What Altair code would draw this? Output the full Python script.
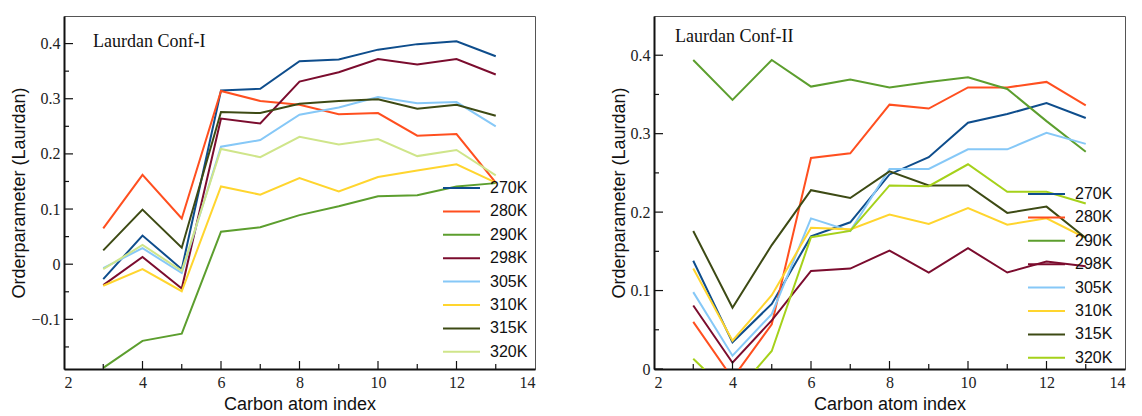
import altair as alt
import pandas as pd

SANS = "Liberation Sans"
SERIF = "Liberation Serif"

carbon = [3, 4, 5, 6, 7, 8, 9, 10, 11, 12, 13]
temps = ["270K", "280K", "290K", "298K", "305K", "310K", "315K", "320K"]

# Laurdan Conf-I
conf1 = {
    "270K": [-0.027, 0.052, -0.009, 0.315, 0.318, 0.368, 0.371, 0.389, 0.399, 0.404, 0.377],
    "280K": [0.065, 0.162, 0.083, 0.314, 0.296, 0.289, 0.272, 0.274, 0.233, 0.236, 0.148],
    "290K": [-0.188, -0.139, -0.126, 0.059, 0.067, 0.089, 0.105, 0.123, 0.125, 0.141, 0.147],
    "298K": [-0.038, 0.013, -0.044, 0.264, 0.255, 0.331, 0.348, 0.372, 0.362, 0.372, 0.344],
    "305K": [-0.007, 0.029, -0.016, 0.213, 0.225, 0.271, 0.284, 0.303, 0.292, 0.294, 0.250],
    "310K": [-0.039, -0.009, -0.049, 0.141, 0.126, 0.156, 0.132, 0.158, 0.170, 0.181, 0.148],
    "315K": [0.025, 0.099, 0.030, 0.276, 0.274, 0.291, 0.296, 0.299, 0.282, 0.289, 0.269],
    "320K": [-0.009, 0.035, -0.012, 0.209, 0.194, 0.231, 0.217, 0.227, 0.196, 0.207, 0.161],
}

# Laurdan Conf-II
conf2 = {
    "270K": [0.138, 0.034, 0.083, 0.169, 0.187, 0.248, 0.270, 0.314, 0.325, 0.339, 0.320],
    "280K": [0.060, -0.012, 0.057, 0.269, 0.275, 0.337, 0.332, 0.359, 0.359, 0.366, 0.336],
    "290K": [0.394, 0.343, 0.394, 0.360, 0.369, 0.359, 0.366, 0.372, 0.357, 0.316, 0.277],
    "298K": [0.081, 0.008, 0.062, 0.125, 0.128, 0.151, 0.123, 0.154, 0.123, 0.137, 0.131],
    "305K": [0.098, 0.017, 0.070, 0.192, 0.176, 0.255, 0.255, 0.280, 0.280, 0.301, 0.287],
    "310K": [0.128, 0.036, 0.094, 0.180, 0.178, 0.197, 0.185, 0.205, 0.184, 0.192, 0.167],
    "315K": [0.176, 0.078, 0.158, 0.228, 0.218, 0.252, 0.234, 0.234, 0.199, 0.207, 0.167],
    "320K": [0.013, -0.035, 0.023, 0.168, 0.176, 0.234, 0.233, 0.261, 0.226, 0.226, 0.211],
}

colors1 = ["#0e4d8c", "#ff4f1f", "#5c9e2e", "#7b0c2e", "#86c8f7", "#ffd52e", "#3d4a14", "#cfe58a"]
colors2 = ["#0e4d8c", "#ff4f1f", "#5c9e2e", "#7b0c2e", "#86c8f7", "#ffd52e", "#3d4a14", "#a5d11a"]
widths1 = [2, 2, 2, 2, 2, 2, 2, 1]
widths2 = [2, 2, 2, 2, 2, 2, 2, 2]

x_labels = [2, 4, 6, 8, 10, 12, 14]
x_major = [4, 6, 8, 10, 12]
x_minor = [3, 5, 7, 9, 11, 13]

y1_labels = [-0.1, 0, 0.1, 0.2, 0.3, 0.4]
y1_minor = [-0.15, -0.05, 0.05, 0.15, 0.25, 0.35]
y2_labels = [0, 0.1, 0.2, 0.3, 0.4]
y2_minor = [0.05, 0.15, 0.25, 0.35]

W, H = 471, 353


def panel(series, colors, widths, ydomain, ylabels, yminor, title, tdx, tdy, legx, legy):
    rows = []
    for t in temps:
        for c, v in zip(carbon, series[t]):
            rows.append({"x": c, "v": v, "T": t})
    df = pd.DataFrame(rows)

    xscale = alt.Scale(domain=[2, 14], nice=False, zero=False)
    yscale = alt.Scale(domain=ydomain, nice=False, zero=False)

    xaxis = alt.Axis(values=x_labels, format="d", ticks=False, tickSize=0, grid=False,
                     domainColor="#111", domainWidth=2,
                     labelFont=SERIF, labelFontSize=16, labelColor="#222", labelPadding=5,
                     title="Carbon atom index", titleFont=SANS, titleFontSize=18,
                     titleFontWeight="normal", titleColor="#111", titlePadding=5)
    yaxis = alt.Axis(values=ylabels, format="~g", ticks=False, tickSize=0, grid=False,
                     domainColor="#111", domainWidth=2,
                     labelFont=SERIF, labelFontSize=16, labelColor="#222", labelPadding=4,
                     title="Orderparameter (Laurdan)", titleFont=SANS, titleFontSize=18,
                     titleFontWeight="normal", titleColor="#111", titlePadding=2)

    lines = alt.Chart(df).mark_line(clip=True).encode(
        x=alt.X("x:Q", scale=xscale, axis=xaxis),
        y=alt.Y("v:Q", scale=yscale, axis=yaxis),
        color=alt.Color(
            "T:N",
            scale=alt.Scale(domain=temps, range=colors),
            legend=alt.Legend(orient="none", legendX=legx, legendY=legy, title=None,
                              symbolType="stroke", symbolSize=1369, symbolStrokeWidth=3,
                              clipHeight=16, rowPadding=7.4, padding=0, labelOffset=9,
                              labelFont=SANS, labelFontSize=16, labelColor="#111"),
        ),
        strokeWidth=alt.StrokeWidth("T:N", scale=alt.Scale(domain=temps, range=widths), legend=None),
    )

    ymaj_df = pd.DataFrame({"v": ylabels})
    ymin_df = pd.DataFrame({"v": yminor})
    xmaj_df = pd.DataFrame({"x": x_major})
    xmin_df = pd.DataFrame({"x": x_minor})

    ytick_major = alt.Chart(ymaj_df).mark_rule(color="#111", strokeWidth=1.2).encode(
        y=alt.Y("v:Q", scale=yscale), x=alt.value(0), x2=alt.value(9))
    ytick_minor = alt.Chart(ymin_df).mark_rule(color="#111", strokeWidth=1.2).encode(
        y=alt.Y("v:Q", scale=yscale), x=alt.value(0), x2=alt.value(5))
    xtick_major = alt.Chart(xmaj_df).mark_rule(color="#111", strokeWidth=1.2).encode(
        x=alt.X("x:Q", scale=xscale), y=alt.value(H), y2=alt.value(H - 8))
    xtick_minor = alt.Chart(xmin_df).mark_rule(color="#111", strokeWidth=1.2).encode(
        x=alt.X("x:Q", scale=xscale), y=alt.value(H), y2=alt.value(H - 5))

    label = alt.Chart(pd.DataFrame({"t": [title]})).mark_text(
        align="left", baseline="alphabetic", font=SERIF, fontSize=18, color="#111"
    ).encode(text="t:N", x=alt.value(tdx), y=alt.value(tdy))

    return alt.layer(lines, ytick_major, ytick_minor, xtick_major, xtick_minor, label).properties(
        width=W, height=H)


left = panel(conf1, colors1, widths1, [-0.19, 0.45], y1_labels, y1_minor,
             "Laurdan Conf-I", 29, 31, 378, 164)
right = panel(conf2, colors2, widths2, [0, 0.45], y2_labels, y2_minor,
              "Laurdan Conf-II", 21, 26, 373, 170)

chart = alt.hconcat(left, right, spacing=73).resolve_scale(
    color="independent", strokeWidth="independent"
).resolve_legend(color="independent").properties(
    padding={"left": 2, "top": 7, "right": 5, "bottom": 0},
    background="white",
).configure_view(stroke="#555", strokeWidth=1)

chart.save("out.html", embed_options={"renderer": "svg", "actions": False})
